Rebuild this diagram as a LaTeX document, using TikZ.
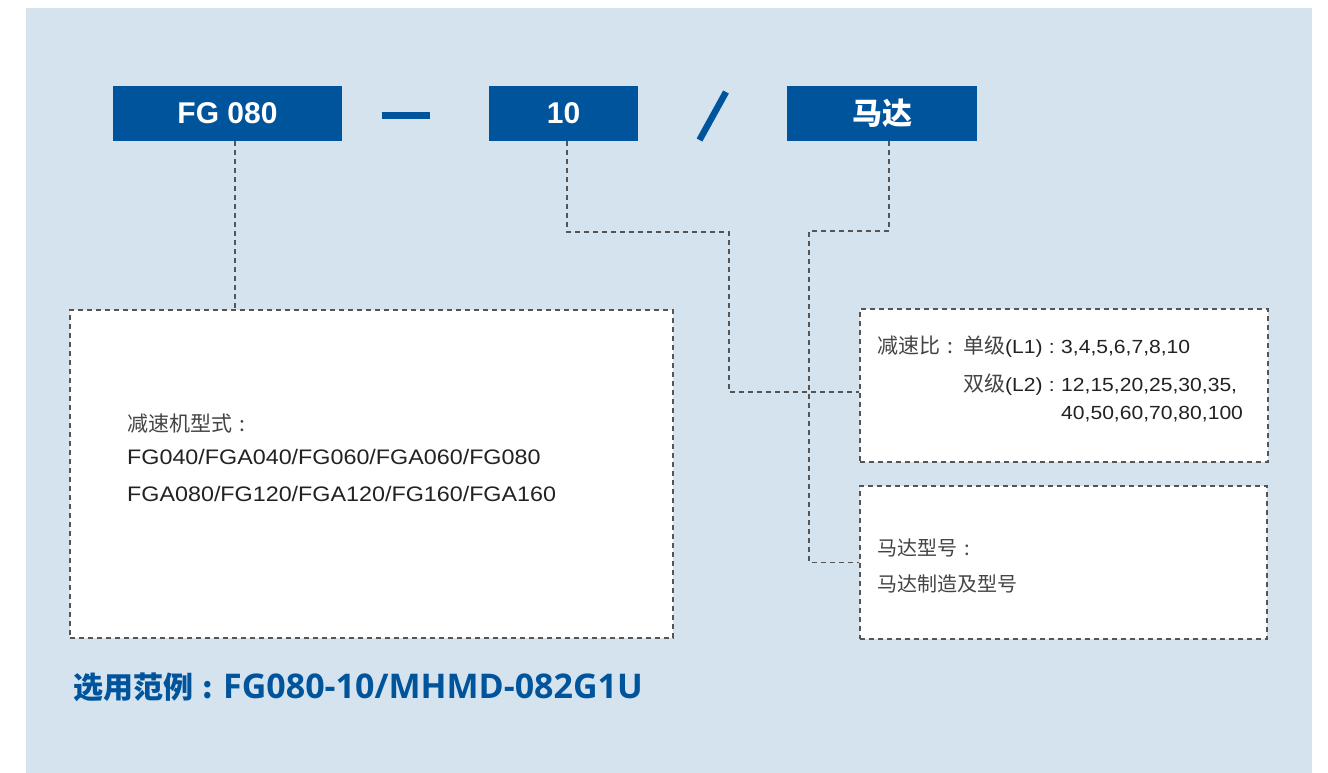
\documentclass[tikz,border=0pt]{standalone}
\usepackage{fontspec}
\usetikzlibrary{positioning}
\setmainfont{Liberation Sans}
\newfontfamily\cjk{Noto Sans CJK SC}
\newfontfamily\txt[FakeStretch=1.11]{Liberation Sans}
\newfontfamily\opensans{Open Sans}
\definecolor{GearBlue}{HTML}{00549C}
\definecolor{PanelBlue}{HTML}{D5E3EE}
\definecolor{LineGray}{HTML}{555555}
\definecolor{TextDark}{HTML}{222222}
\definecolor{TextGray}{HTML}{444444}
\newcommand{\zh}[2][21]{{\cjk\fontsize{#1}{#1}\selectfont\color{TextGray}#2}}
\newcommand{\zhcolon}[1][21]{\makebox[#1pt]{\cjk\fontsize{#1}{#1}\selectfont :}}

\begin{document}
\begin{tikzpicture}[
        x=1pt, y=-1pt,
        partbox/.style={
            rectangle, fill=GearBlue, text=white, inner sep=0pt,
            minimum height=55pt, font=\fontsize{30}{30}\selectfont\bfseries
        },
        specbox/.style={
            rectangle, draw=LineGray, line width=1.2pt, dash pattern=on 5pt off 4pt,
            fill=white, inner sep=0pt
        },
        spectext/.style={anchor=base west, inner sep=0pt, text=TextDark},
        link/.style={draw=LineGray, line width=1.2pt, dash pattern=on 5pt off 4pt}
    ]

    \useasboundingbox (0,0) rectangle (1328,773);
    \fill[PanelBlue] (26,8) rectangle (1312,773);

    % Code parts
    \node (series) [partbox, minimum width=229pt] at (227.5,113.5) {FG 080};
    \node (ratio) [partbox, minimum width=149pt] at (563.5,113.5) {10};
    \node (motor) [partbox, minimum width=190pt, font=\cjk\fontsize{30}{30}\selectfont\bfseries] at (882,113.5) {马达};

    % Separators
    \fill[GearBlue] (382,112) rectangle (430,119);
    \draw[GearBlue, line width=6.5pt] (699.5,140) -- (726,92);

    % Spec boxes
    \node (seriesspec) [specbox, minimum width=603pt, minimum height=328pt] at (371.5,474) {};
    \node (ratiospec) [specbox, minimum width=408pt, minimum height=153pt] at (1064,385.5) {};
    \node (motorspec) [specbox, minimum width=407pt, minimum height=153pt] at (1063.5,562.5) {};

    \node (seriestext) [spectext, font=\txt\fontsize{21}{21}\selectfont] at (127,431) {%
        \begin{tabular}[t]{@{}l@{}}
            \zh{减速机型式\zhcolon}\\[11.5pt]
            FG040/FGA040/FG060/FGA060/FG080\\[16pt]
            FGA080/FG120/FGA120/FG160/FGA160
        \end{tabular}};

    \node (ratiotext) [spectext, font=\txt\fontsize{19}{19}\selectfont] at (877,353) {%
        \begin{tabular}[t]{@{}l@{}l@{}l@{}l@{}}
            \makebox[86pt][l]{\zh{减速比\zhcolon}} & \makebox[79pt][l]{\zh{单级}(L1)} & \makebox[19pt]{:} & 3,4,5,6,7,8,10\\[15pt]
            & \makebox[79pt][l]{\zh{双级}(L2)} & \makebox[19pt]{:} & 12,15,20,25,30,35,\\[9pt]
            & & & 40,50,60,70,80,100
        \end{tabular}};

    \node (motortext) [spectext, font=\fontsize{20}{20}\selectfont] at (877,555) {%
        \begin{tabular}[t]{@{}l@{}}
            \zh[20]{马达型号\zhcolon[20]}\\[14pt]
            \zh[20]{马达制造及型号}
        \end{tabular}};

    % Example
    \node (example) [anchor=base west, inner sep=0pt, text=GearBlue] at (73,698) {%
        {\cjk\bfseries\fontsize{30}{30}\selectfont 选用范例\makebox[30pt]{:}}{\opensans\bfseries\fontsize{34}{34}\selectfont FG080-10/MHMD-082G1U}};

    % Connectors
    \coordinate (ratiobend) at (729,232);
    \coordinate (motorbend) at (809,231);
    \draw[link] ([xshift=7.5pt]series.south) -- ([xshift=7.5pt]series.south |- seriesspec.north);
    \draw[link] ([xshift=3.5pt]ratio.south) |- (ratiobend) |- ([yshift=-6.5pt]ratiospec.west);
    \draw[link] ([xshift=7pt]motor.south) |- (motorbend) |- (motorspec.west);

\end{tikzpicture}
\end{document}
